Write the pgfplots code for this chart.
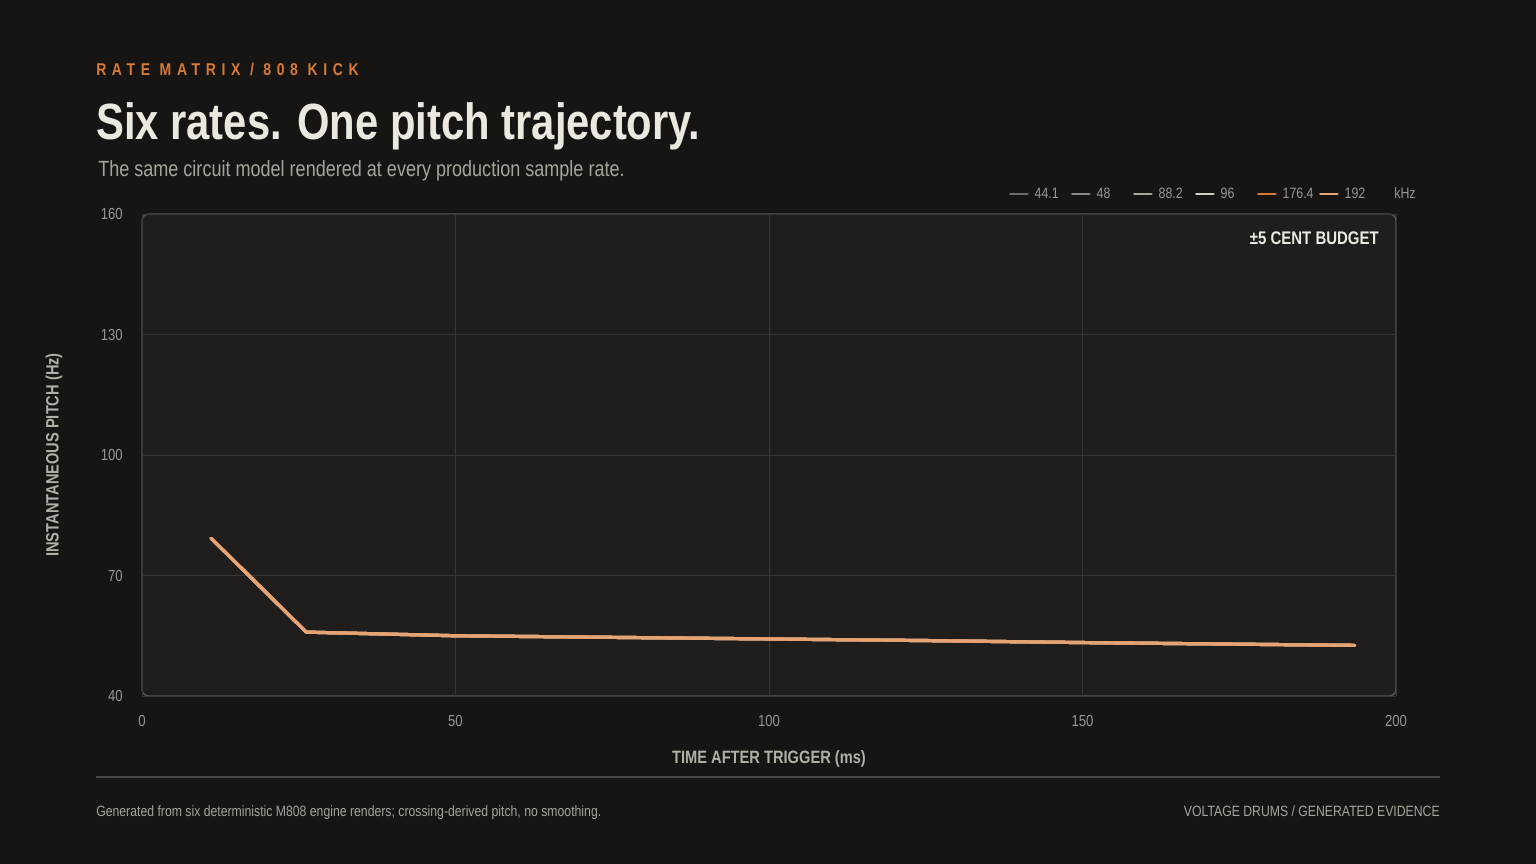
\documentclass[border=0pt]{standalone}
\usepackage{fontspec}
\setmainfont{Liberation Sans}[FakeStretch=0.82]
\usepackage{pgfplots}
\pgfplotsset{compat=1.18}
\usepackage{pgfplotstable}

\definecolor{pagebg}{HTML}{161513}
\definecolor{plotbg}{HTML}{1F1E1C}
\definecolor{frame}{HTML}{57534E}
\definecolor{gridc}{HTML}{383633}
\definecolor{titlec}{HTML}{ECE8E0}
\definecolor{subc}{HTML}{A8A39B}
\definecolor{kicker}{HTML}{D77A38}
\definecolor{tickc}{HTML}{9B968F}
\definecolor{labelc}{HTML}{B3AEA6}
\definecolor{rulec}{HTML}{484541}
\definecolor{rA}{HTML}{6E6A65}
\definecolor{rB}{HTML}{8C8782}
\definecolor{rC}{HTML}{AAA59E}
\definecolor{rD}{HTML}{D2CEC6}
\definecolor{rE}{HTML}{D9782F}
\definecolor{rF}{HTML}{E6A373}

% crossing-derived pitch (Hz) against time after trigger (ms)
\pgfplotstableread{
t     f
11.0  79.3
26.2  55.9
50    55.0
75    54.6
100   54.2
125   53.8
150   53.3
175   52.9
193.4 52.6
}\pitchA
\pgfplotstableread{
t     f
11.0  79.3
26.2  55.9
50    55.0
75    54.6
100   54.2
125   53.8
150   53.3
175   52.9
193.4 52.6
}\pitchB
\pgfplotstableread{
t     f
11.0  79.3
26.2  55.9
50    55.0
75    54.6
100   54.2
125   53.8
150   53.3
175   52.9
193.4 52.6
}\pitchC
\pgfplotstableread{
t     f
11.0  79.3
26.2  55.9
50    55.0
75    54.6
100   54.2
125   53.8
150   53.3
175   52.9
193.4 52.6
}\pitchD
\pgfplotstableread{
t     f
11.0  79.3
26.2  55.9
50    55.0
75    54.6
100   54.2
125   53.8
150   53.3
175   52.9
193.4 52.6
}\pitchE
\pgfplotstableread{
t     f
11.0  79.3
26.2  55.9
50    55.0
75    54.6
100   54.2
125   53.8
150   53.3
175   52.9
193.4 52.6
}\pitchF

\begin{document}
\begin{tikzpicture}[x=0.75pt,y=0.75pt]
\useasboundingbox (0,0) rectangle (1536,864);
\fill[pagebg] (0,0) rectangle (1536,864);

% heading
\node[anchor=base west, inner sep=0pt, text=kicker,
      font=\fontsize{12.8}{14}\selectfont\bfseries\addfontfeature{LetterSpace=33}]
  at (96,788) {RATE MATRIX / 808 KICK};
\node[anchor=base west, inner sep=0pt, text=titlec,
      font=\fontsize{38.2}{42}\selectfont\bfseries]
  at (96,724) {Six rates. One pitch trajectory.};
\node[anchor=base west, inner sep=0pt, text=subc,
      font=\fontsize{16.5}{19}\selectfont]
  at (98,687) {The same circuit model rendered at every production sample rate.};

\begin{axis}[
  at={(106.5pt,126pt)}, anchor=south west,
  scale only axis, width=940.5pt, height=361.5pt,
  xmin=0, xmax=200, ymin=40, ymax=160,
  xtick={0,50,100,150,200}, ytick={40,70,100,130,160},
  axis line style={draw=none},
  axis background/.style={fill=plotbg, draw=frame, line width=1.1pt, rounded corners=5pt},
  grid=major, major grid style={gridc, line width=0.6pt},
  tick style={draw=none},
  /pgf/number format/assume math mode=true,
  ticklabel style={font=\fontsize{12}{14}\selectfont, text=tickc, inner sep=0pt},
  xticklabel style={anchor=center, yshift=-18.75pt},
  yticklabel style={anchor=east, xshift=-14.25pt},
  xlabel={TIME AFTER TRIGGER (ms)},
  ylabel={INSTANTANEOUS PITCH (Hz)},
  label style={font=\fontsize{13.4}{15}\selectfont\bfseries, text=labelc},
  xlabel style={at={(axis description cs:0.5,-0.1307)}, anchor=center},
  ylabel style={at={(axis description cs:-0.0702,0.5)}, anchor=center, rotate=0},
  legend columns=-1,
  legend style={at={(axis description cs:0.9745,1.0415)}, anchor=east,
    draw=none, fill=none, inner sep=0pt, outer sep=0pt,
    font=\fontsize{11.3}{13}\selectfont, text=tickc,
    nodes={inner sep=0pt},
    /tikz/every odd column/.append style={column sep=4.4pt},
    /tikz/every even column/.append style={column sep=3.9pt}},
  legend image code/.code={\draw[#1, line width=2.2pt] (0pt,0pt) -- (12.75pt,0pt);},
  every axis plot/.append style={line width=2.4pt, line join=round, line cap=round},
]
\addplot[rA] table[x=t,y=f] {\pitchA};
\addlegendentry{\makebox[23.25pt][l]{44.1}}
\addplot[rB] table[x=t,y=f] {\pitchB};
\addlegendentry{\makebox[23.25pt][l]{48}}
\addplot[rC] table[x=t,y=f] {\pitchC};
\addlegendentry{\makebox[23.25pt][l]{88.2}}
\addplot[rD] table[x=t,y=f] {\pitchD};
\addlegendentry{\makebox[23.25pt][l]{96}}
\addplot[rE] table[x=t,y=f] {\pitchE};
\addlegendentry{\makebox[23.25pt][l]{176.4}}
\addplot[rF] table[x=t,y=f] {\pitchF};
\addlegendentry{\makebox[14.5pt][l]{192}}

\node[anchor=north east, inner sep=0pt, text=titlec,
      font=\fontsize{13.7}{15}\selectfont\bfseries]
  at (axis description cs:0.9865,0.9647) {±5 CENT BUDGET};
\end{axis}

\node[anchor=center, inner sep=0pt, text=tickc, font=\fontsize{11.3}{13}\selectfont]
  at (1405,671) {kHz};

% footer
\draw[rulec, line width=1.5pt] (96,87) -- (1440,87);
\node[anchor=base west, inner sep=0pt, text=subc, font=\fontsize{11.2}{13}\selectfont]
  at (96,47) {Generated from six deterministic M808 engine renders; crossing-derived pitch, no smoothing.};
\node[anchor=base east, inner sep=0pt, text=subc, font=\fontsize{11.2}{13}\selectfont]
  at (1440,47) {VOLTAGE DRUMS / GENERATED EVIDENCE};
\end{tikzpicture}
\end{document}
